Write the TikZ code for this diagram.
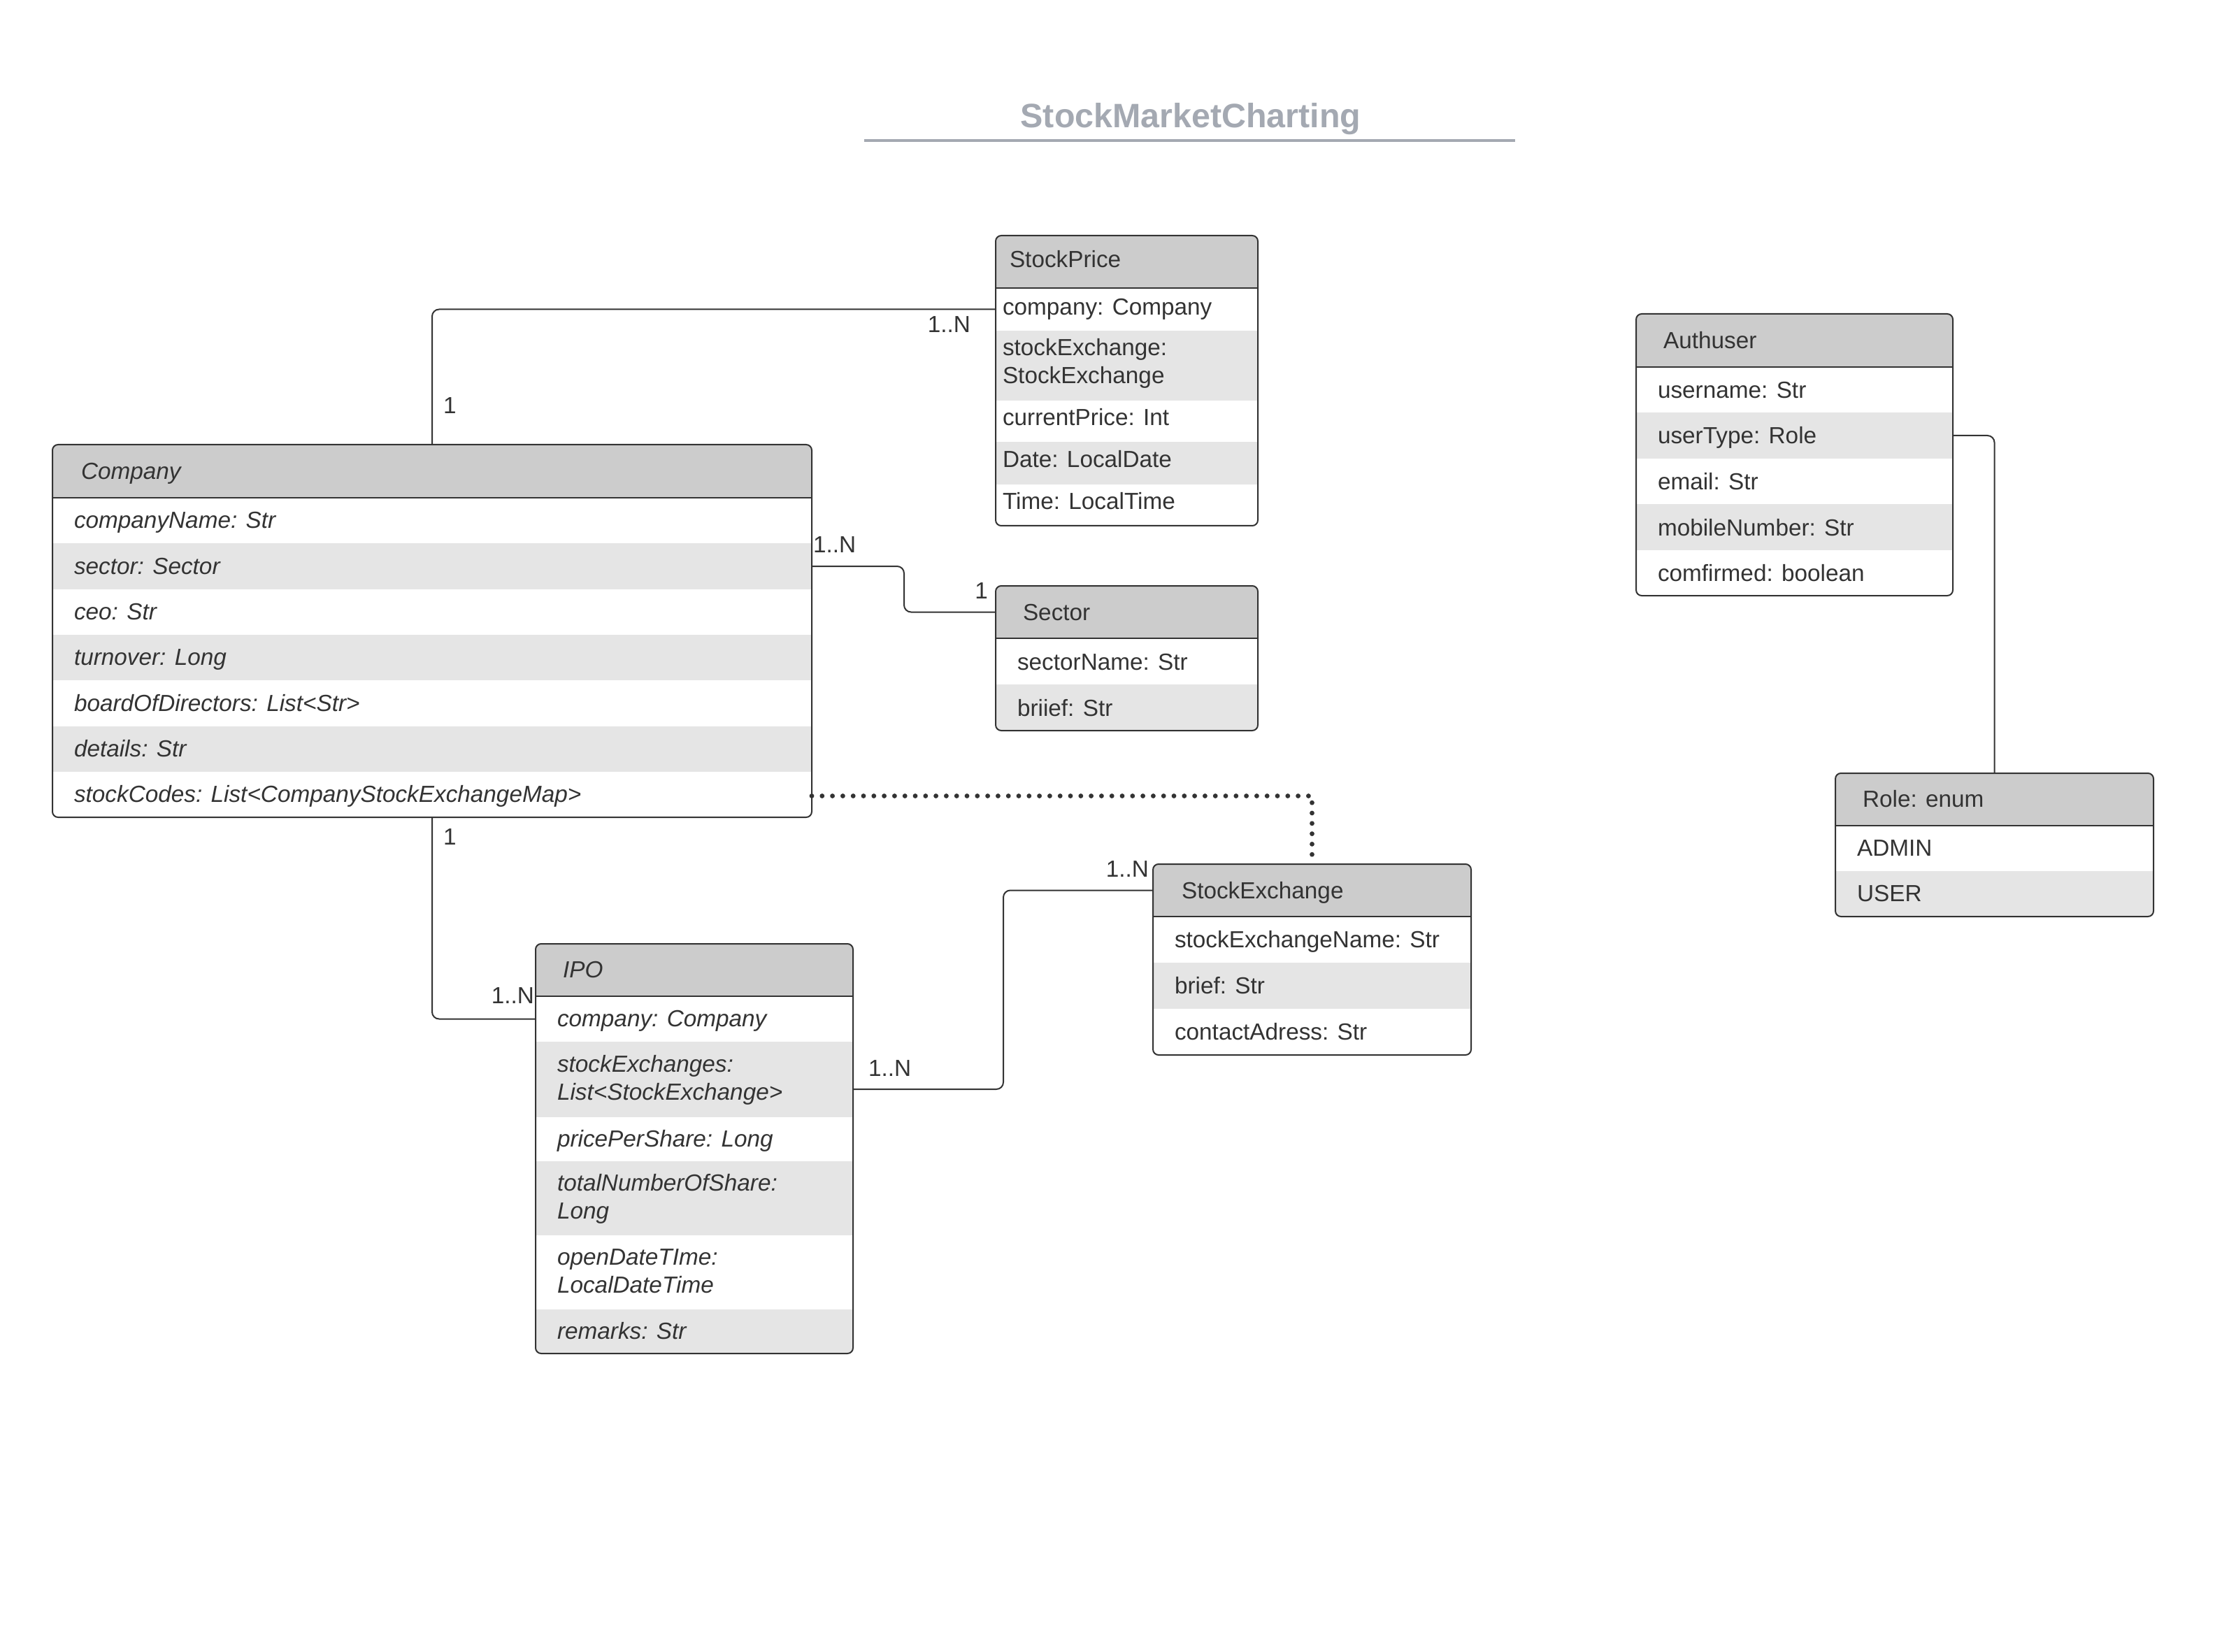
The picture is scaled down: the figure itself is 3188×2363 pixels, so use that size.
\documentclass[tikz,border=0pt]{standalone}
\usepackage{fontspec}
\setmainfont{Liberation Sans}
\usetikzlibrary{fit,calc}
\definecolor{ink}{HTML}{333333}
\definecolor{headgray}{HTML}{CCCCCC}
\definecolor{rowgray}{HTML}{E5E5E5}
\definecolor{titlegray}{HTML}{A4A9B2}

\begin{document}
\begin{tikzpicture}[x=0.25pt,y=-0.25pt,
  classhead/.style={fit={#1}, inner sep=0pt, outer sep=0pt, fill=headgray},
  rowW/.style={fit={#1}, inner sep=0pt, outer sep=0pt, fill=white},
  rowG/.style={fit={#1}, inner sep=0pt, outer sep=0pt, fill=rowgray},
  classframe/.style={fit={#1}, inner sep=0pt, outer sep=0pt, draw=ink, line width=0.5pt, rounded corners=2pt},
  sepline/.style={draw=ink, line width=0.5pt},
  txt/.style={anchor=base west, inner sep=0pt, outer sep=0pt, text=ink, font=\fontsize{8.33}{10}\selectfont},
  itxt/.style={txt, font=\fontsize{8.33}{10}\selectfont\itshape},
  mult/.style={inner sep=0pt, outer sep=0pt, text=ink, font=\fontsize{8.33}{10}\selectfont},
  conn/.style={draw=ink, line width=0.5pt, rounded corners=2.5pt},
  dotline/.style={draw=ink, line width=1.7pt, line cap=round, dash pattern=on 0pt off 3.7pt}
]
\fill[white] (0,0) rectangle (3188,2363);
\useasboundingbox (0,0) rectangle (3188,2363);

% title
\node[anchor=base, inner sep=0pt, text=titlegray, font=\fontsize{12.1}{14}\selectfont\bfseries] (title) at (1703,183) {StockMarketCharting};
\draw[titlegray, line width=1pt] (1236,201) -- (2167,201);

% ---------- Company ----------
\begin{scope}
  \clip[rounded corners=2pt] (75,636) rectangle (1161,1169);
  \node[classhead={(75,636)(1161,712)}] (cohead) {};
  \node[rowW={(75,712)(1161,777)}] (co1) {};
  \node[rowG={(75,777)(1161,843)}] (co2) {};
  \node[rowW={(75,843)(1161,908)}] (co3) {};
  \node[rowG={(75,908)(1161,973)}] (co4) {};
  \node[rowW={(75,973)(1161,1039)}] (co5) {};
  \node[rowG={(75,1039)(1161,1104)}] (co6) {};
  \node[rowW={(75,1104)(1161,1169)}] (co7) {};
\end{scope}
\node[classframe={(75,636)(1161,1169)}] (company) {};
\draw[sepline] (cohead.south west) -- (cohead.south east);
\node[itxt] at ($(cohead.west)+(41,12)$) {Company};
\node[itxt] at ($(co1.west)+(31,11)$) {companyName: Str};
\node[itxt] at ($(co2.west)+(31,11)$) {sector: Sector};
\node[itxt] at ($(co3.west)+(31,11)$) {ceo: Str};
\node[itxt] at ($(co4.west)+(31,11)$) {turnover: Long};
\node[itxt] at ($(co5.west)+(31,11)$) {boardOfDirectors: List<Str>};
\node[itxt] at ($(co6.west)+(31,11)$) {details: Str};
\node[itxt] at ($(co7.west)+(31,11)$) {stockCodes: List<CompanyStockExchangeMap>};

% ---------- StockPrice ----------
\begin{scope}
  \clip[rounded corners=2pt] (1424,337) rectangle (1799,752);
  \node[classhead={(1424,337)(1799,412)}] (sphead) {};
  \node[rowW={(1424,412)(1799,473)}] (sp1) {};
  \node[rowG={(1424,473)(1799,573)}] (sp2) {};
  \node[rowW={(1424,573)(1799,632)}] (sp3) {};
  \node[rowG={(1424,632)(1799,693)}] (sp4) {};
  \node[rowW={(1424,693)(1799,752)}] (sp5) {};
\end{scope}
\node[classframe={(1424,337)(1799,752)}] (stockprice) {};
\draw[sepline] (sphead.south west) -- (sphead.south east);
\node[txt] at ($(sphead.west)+(20,8)$) {StockPrice};
\node[txt] at ($(sp1.west)+(10,8)$) {company: Company};
\node[txt] at ($(sp2.west)+(10,-14)$) {stockExchange:};
\node[txt] at ($(sp2.west)+(10,26)$) {StockExchange};
\node[txt] at ($(sp3.west)+(10,6)$) {currentPrice: Int};
\node[txt] at ($(sp4.west)+(10,6)$) {Date: LocalDate};
\node[txt] at ($(sp5.west)+(10,6)$) {Time: LocalTime};

% ---------- Sector ----------
\begin{scope}
  \clip[rounded corners=2pt] (1424,838) rectangle (1799,1045);
  \node[classhead={(1424,838)(1799,913)}] (sechead) {};
  \node[rowW={(1424,913)(1799,979)}] (sec1) {};
  \node[rowG={(1424,979)(1799,1045)}] (sec2) {};
\end{scope}
\node[classframe={(1424,838)(1799,1045)}] (sector) {};
\draw[sepline] (sechead.south west) -- (sechead.south east);
\node[txt] at ($(sechead.west)+(39,12)$) {Sector};
\node[txt] at ($(sec1.west)+(31,12)$) {sectorName: Str};
\node[txt] at ($(sec2.west)+(31,12)$) {briief: Str};

% ---------- Authuser ----------
\begin{scope}
  \clip[rounded corners=2pt] (2340,449) rectangle (2793,852);
  \node[classhead={(2340,449)(2793,525)}] (auhead) {};
  \node[rowW={(2340,525)(2793,590)}] (au1) {};
  \node[rowG={(2340,590)(2793,656)}] (au2) {};
  \node[rowW={(2340,656)(2793,721)}] (au3) {};
  \node[rowG={(2340,721)(2793,787)}] (au4) {};
  \node[rowW={(2340,787)(2793,852)}] (au5) {};
\end{scope}
\node[classframe={(2340,449)(2793,852)}] (authuser) {};
\draw[sepline] (auhead.south west) -- (auhead.south east);
\node[txt] at ($(auhead.west)+(39,12)$) {Authuser};
\node[txt] at ($(au1.west)+(31,12)$) {username: Str};
\node[txt] at ($(au2.west)+(31,12)$) {userType: Role};
\node[txt] at ($(au3.west)+(31,12)$) {email: Str};
\node[txt] at ($(au4.west)+(31,12)$) {mobileNumber: Str};
\node[txt] at ($(au5.west)+(31,12)$) {comfirmed: boolean};

% ---------- Role ----------
\begin{scope}
  \clip[rounded corners=2pt] (2625,1106) rectangle (3080,1311);
  \node[classhead={(2625,1106)(3080,1181)}] (rohead) {};
  \node[rowW={(2625,1181)(3080,1246)}] (ro1) {};
  \node[rowG={(2625,1246)(3080,1311)}] (ro2) {};
\end{scope}
\node[classframe={(2625,1106)(3080,1311)}] (role) {};
\draw[sepline] (rohead.south west) -- (rohead.south east);
\node[txt] at ($(rohead.west)+(39,11)$) {Role: enum};
\node[txt] at ($(ro1.west)+(31,11)$) {ADMIN};
\node[txt] at ($(ro2.west)+(31,11)$) {USER};

% ---------- StockExchange ----------
\begin{scope}
  \clip[rounded corners=2pt] (1649,1236) rectangle (2104,1509);
  \node[classhead={(1649,1236)(2104,1311)}] (sxhead) {};
  \node[rowW={(1649,1311)(2104,1377)}] (sx1) {};
  \node[rowG={(1649,1377)(2104,1443)}] (sx2) {};
  \node[rowW={(1649,1443)(2104,1509)}] (sx3) {};
\end{scope}
\node[classframe={(1649,1236)(2104,1509)}] (exchange) {};
\draw[sepline] (sxhead.south west) -- (sxhead.south east);
\node[txt] at ($(sxhead.west)+(41,12)$) {StockExchange};
\node[txt] at ($(sx1.west)+(31,11)$) {stockExchangeName: Str};
\node[txt] at ($(sx2.west)+(31,11)$) {brief: Str};
\node[txt] at ($(sx3.west)+(31,11)$) {contactAdress: Str};

% ---------- IPO ----------
\begin{scope}
  \clip[rounded corners=2pt] (766,1350) rectangle (1220,1936);
  \node[classhead={(766,1350)(1220,1425)}] (ipohead) {};
  \node[rowW={(766,1425)(1220,1490)}] (ipo1) {};
  \node[rowG={(766,1490)(1220,1598)}] (ipo2) {};
  \node[rowW={(766,1598)(1220,1661)}] (ipo3) {};
  \node[rowG={(766,1661)(1220,1767)}] (ipo4) {};
  \node[rowW={(766,1767)(1220,1873)}] (ipo5) {};
  \node[rowG={(766,1873)(1220,1936)}] (ipo6) {};
\end{scope}
\node[classframe={(766,1350)(1220,1936)}] (ipo) {};
\draw[sepline] (ipohead.south west) -- (ipohead.south east);
\node[itxt] at ($(ipohead.west)+(39,11)$) {IPO};
\node[itxt] at ($(ipo1.west)+(31,11)$) {company: Company};
\node[itxt] at ($(ipo2.west)+(31,-11)$) {stockExchanges:};
\node[itxt] at ($(ipo2.west)+(31,29)$) {List<StockExchange>};
\node[itxt] at ($(ipo3.west)+(31,11)$) {pricePerShare: Long};
\node[itxt] at ($(ipo4.west)+(31,-11)$) {totalNumberOfShare:};
\node[itxt] at ($(ipo4.west)+(31,29)$) {Long};
\node[itxt] at ($(ipo5.west)+(31,-11)$) {openDateTIme:};
\node[itxt] at ($(ipo5.west)+(31,29)$) {LocalDateTime};
\node[itxt] at ($(ipo6.west)+(31,11)$) {remarks: Str};

% ---------- connectors ----------
\draw[conn] (company.north) |- (sp1.west);
\draw[conn] (co2.east) -- ++(132,0) |- (sechead.west);
\draw[conn] (company.south) |- (ipo1.west);
\coordinate (ipoout) at ($(ipo2.east)+(0,14)$);
\draw[conn] (ipoout) -- ++(215,0) |- (sxhead.west);
\draw[dotline] ($(co7.east)+(0,2)$) -| (exchange.north);
\draw[conn] (au2.east) -| (role.north);

% ---------- multiplicities ----------
\node[mult, anchor=base west] (m1) at (634,592) {1};
\node[mult, anchor=base east] (m2) at (1388,476) {1..N};
\node[mult, anchor=base west] (m3) at (1163,790) {1..N};
\node[mult, anchor=base east] (m4) at (1413,856) {1};
\node[mult, anchor=base west] (m5) at (634,1208) {1};
\node[mult, anchor=base east] (m6) at (764,1435) {1..N};
\node[mult, anchor=base west] (m7) at (1242,1539) {1..N};
\node[mult, anchor=base east] (m8) at (1643,1254) {1..N};
\end{tikzpicture}
\end{document}
